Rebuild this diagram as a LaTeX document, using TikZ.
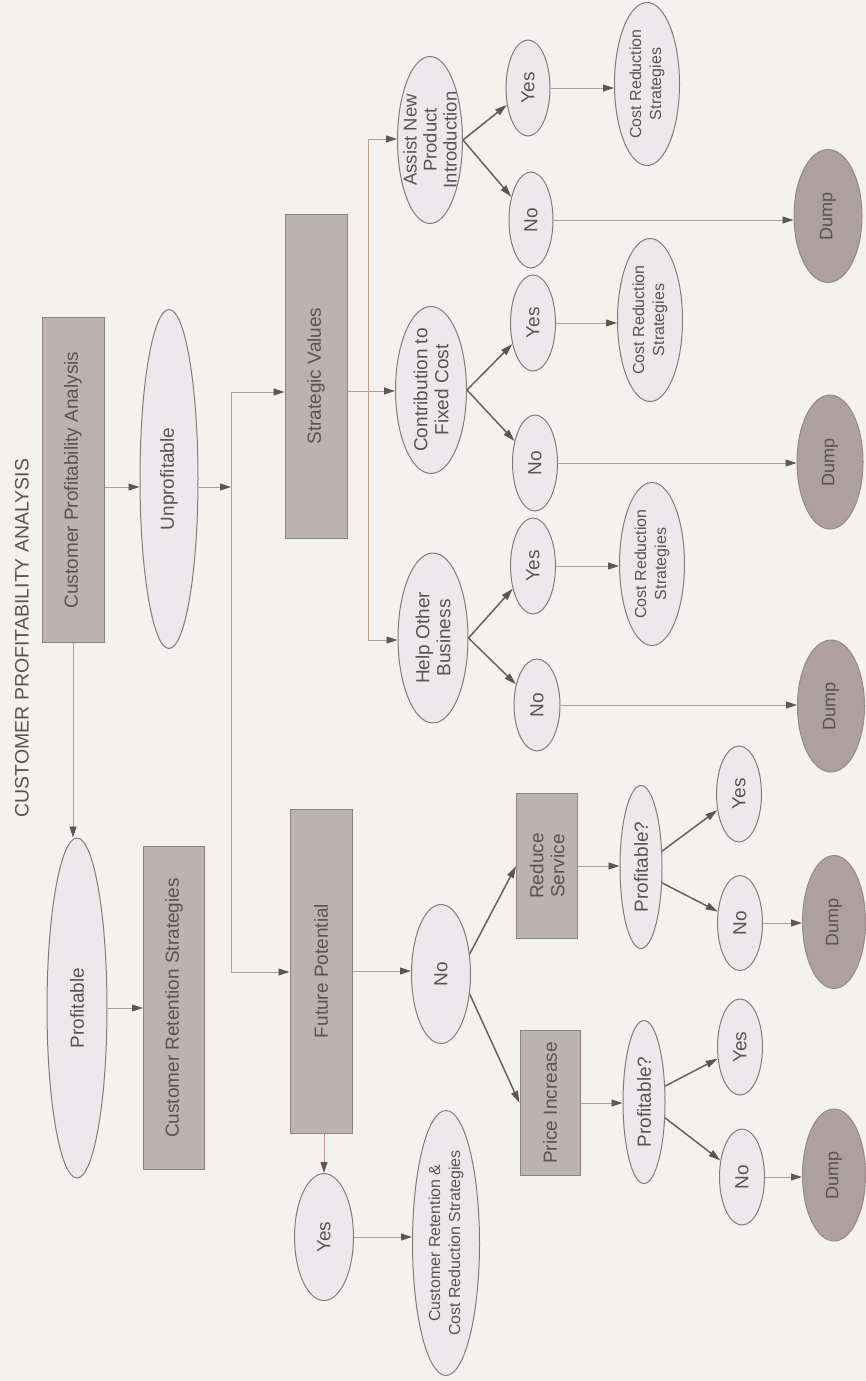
\documentclass[tikz,border=0pt]{standalone}
\usepackage{fontspec}
\setmainfont{Liberation Sans}
\usetikzlibrary{shapes.geometric,arrows.meta}
\definecolor{bg}{HTML}{F4F2EE}
\definecolor{boxfill}{HTML}{BAB2B3}
\definecolor{boxline}{HTML}{8A8282}
\definecolor{ellfill}{HTML}{ECE9EC}
\definecolor{ellline}{HTML}{847A7A}
\definecolor{dumpfill}{HTML}{AEA0A0}
\definecolor{dumpline}{HTML}{978989}
\definecolor{txtc}{HTML}{595353}
\definecolor{lnc}{HTML}{BC9C90}
\definecolor{tipc}{HTML}{5E5555}
\definecolor{darkln}{HTML}{6A6060}
\tikzset{
  boxn/.style 2 args={rectangle, draw=boxline, fill=boxfill, line width=1pt, inner sep=0pt, minimum width=#1, minimum height=#2},
  lell/.style 2 args={ellipse, draw=ellline, fill=ellfill, line width=1pt, inner sep=0pt, minimum width=#1, minimum height=#2},
  dell/.style 2 args={ellipse, draw=dumpline, fill=dumpfill, line width=1pt, inner sep=0pt, minimum width=#1, minimum height=#2},
  txt/.style={rotate=90, text=txtc, inner sep=0pt, align=center, font=\fontsize{19}{21}\selectfont},
  stxt/.style={rotate=90, text=txtc, inner sep=0pt, align=center, font=\fontsize{16}{20}\selectfont},
  ln/.style={draw=lnc, line width=0.9pt},
  arr/.style={draw=lnc, line width=0.9pt, -{Triangle[length=11pt,width=7pt,color=tipc]}},
  darr/.style={draw=darkln, line width=1.5pt, -{Triangle[length=12pt,width=7pt,color=tipc]}}
}
\begin{document}
\begin{tikzpicture}[x=1pt,y=-1pt]
\fill[bg] (0,0) rectangle (866,1381);
\useasboundingbox (0,0) rectangle (866,1381);

% title
\node[rotate=90, text=txtc, inner sep=0pt, font=\fontsize{19.5}{22}\selectfont] (title) at (22,638) {CUSTOMER PROFITABILITY ANALYSIS};

% level 1
\node[boxn={62pt}{325pt}, label={[txt]center:Customer Profitability Analysis}] (cpa) at (73,480) {};
\node[lell={58pt}{339pt}, label={[txt]center:Unprofitable}] (unp) at (169,479) {};
\node[lell={60pt}{340pt}, label={[txt]center:Profitable}] (prof) at (77,1008) {};
\node[boxn={61pt}{323pt}, label={[txt]center:Customer Retention Strategies}] (crs) at (174,1008) {};

% level 2
\node[boxn={62pt}{324pt}, label={[txt]center:Strategic Values}] (sv) at (316,376) {};
\node[boxn={62pt}{324pt}, label={[txt]center:Future Potential}] (fp) at (321,971) {};

% strategic value questions
\node[lell={65pt}{167pt}, label={[txt,font=\fontsize{18.5}{20}\selectfont]center:{Assist New\\Product\\Introduction}}] (anp) at (430,140) {};
\node[lell={71pt}{167pt}, label={[txt]center:{Contribution to\\Fixed Cost}}] (cfc) at (431,390) {};
\node[lell={70pt}{170pt}, label={[txt]center:{Help Other\\Business}}] (hob) at (433,638) {};

\node[lell={44pt}{96pt}, label={[txt]center:Yes}] (y1) at (528,88) {};
\node[lell={44pt}{96pt}, label={[txt]center:No}] (n1) at (531,220) {};
\node[lell={45pt}{96pt}, label={[txt]center:Yes}] (y2) at (533,323) {};
\node[lell={45pt}{96pt}, label={[txt]center:No}] (n2) at (535,463) {};
\node[lell={45pt}{96pt}, label={[txt]center:Yes}] (y3) at (533,566) {};
\node[lell={46pt}{92pt}, label={[txt]center:No}] (n3) at (537,705) {};

\node[lell={65pt}{163pt}, label={[stxt]center:{Cost Reduction\\Strategies}}] (c1) at (647,84) {};
\node[lell={65pt}{163pt}, label={[stxt]center:{Cost Reduction\\Strategies}}] (c2) at (650,320) {};
\node[lell={65pt}{163pt}, label={[stxt]center:{Cost Reduction\\Strategies}}] (c3) at (652,564) {};

\node[dell={68pt}{133pt}, label={[txt,font=\fontsize{18}{20}\selectfont]center:Dump}] (d1) at (828,216) {};
\node[dell={66pt}{134pt}, label={[txt,font=\fontsize{18}{20}\selectfont]center:Dump}] (d2) at (830,462) {};
\node[dell={67pt}{132pt}, label={[txt,font=\fontsize{18}{20}\selectfont]center:Dump}] (d3) at (831,706) {};
\node[dell={63pt}{133pt}, label={[txt,font=\fontsize{18}{20}\selectfont]center:Dump}] (d4) at (834,922) {};
\node[dell={63pt}{132pt}, label={[txt,font=\fontsize{18}{20}\selectfont]center:Dump}] (d5) at (834,1175) {};

% future potential branch
\node[lell={59pt}{139pt}, label={[txt]center:No}] (fno) at (441,974) {};
\node[lell={59pt}{127pt}, label={[txt]center:Yes}] (fyes) at (324,1237) {};
\node[lell={67pt}{265pt}, label={[stxt]center:{Customer Retention \&\\Cost Reduction Strategies}}] (crcr) at (446,1243) {};
\node[boxn={61pt}{145pt}, label={[txt]center:{Reduce\\Service}}] (rs) at (547,866) {};
\node[boxn={60pt}{145pt}, label={[txt]center:Price Increase}] (pi) at (550,1103) {};
\node[lell={42pt}{163pt}, label={[txt]center:Profitable?}] (p1) at (641,867) {};
\node[lell={42pt}{163pt}, label={[txt]center:Profitable?}] (p2) at (644,1102) {};
\node[lell={45pt}{96pt}, label={[txt]center:Yes}] (py1) at (739,794) {};
\node[lell={45pt}{95pt}, label={[txt]center:No}] (pn1) at (740,923) {};
\node[lell={45pt}{96pt}, label={[txt]center:Yes}] (py2) at (740,1047) {};
\node[lell={45pt}{96pt}, label={[txt]center:No}] (pn2) at (742,1177) {};

% bus coordinates
\coordinate (b1) at (231,487);
\coordinate (bt) at (231,392);
\coordinate (bb) at (231,972);
\coordinate (s1) at (368,391);
\coordinate (st) at (368,139);
\coordinate (sb) at (368,640);

% connectors
\draw[arr] (cpa.east |- b1) -- (unp.west |- b1);
\draw[arr] (unp.east |- b1) -- (b1);
\draw[ln] (bt) -- (bb);
\draw[arr] (bt) -- (bt -| sv.west);
\draw[arr] (bb) -- (bb -| fp.west);
\draw[arr] (cpa.south) -- (cpa.south |- prof.north);
\draw[arr] (prof.east) -- (prof.east -| crs.west);

\draw[arr] (sv.east |- s1) -- (s1 -| cfc.west);
\draw[ln] (st) -- (sb);
\draw[arr] (st) -- (st -| anp.west);
\draw[arr] (sb) -- (sb -| hob.west);

\draw[darr] (anp.east) -- (y1);
\draw[darr] (anp.east) -- (n1);
\draw[darr] (cfc.east) -- (y2);
\draw[darr] (cfc.east) -- (n2);
\draw[darr] (hob.east) -- (y3);
\draw[darr] (hob.east) -- (n3);

\draw[arr] (y1.east) -- (y1.east -| c1.west);
\draw[arr] (n1.east) -- (n1.east -| d1.west);
\draw[arr] (y2.east) -- (y2.east -| c2.west);
\draw[arr] (n2.east) -- (n2.east -| d2.west);
\draw[arr] (y3.east) -- (y3.east -| c3.west);
\draw[arr] (n3.east) -- (n3.east -| d3.west);

\draw[arr] (fp.east) -- (fp.east -| fno.west);
\draw[arr] (fyes |- fp.south) -- (fyes.north);
\draw[arr] (fyes.east) -- (fyes.east -| crcr.west);
\draw[darr] (fno.35) -- (rs.west);
\draw[darr] (fno.-35) -- (pi.west);
\draw[arr] (rs.east) -- (rs.east -| p1.west);
\draw[arr] (pi.east) -- (pi.east -| p2.west);
\draw[darr] (p1.37) -- (py1);
\draw[darr] (p1.-37) -- (pn1);
\draw[darr] (p2.37) -- (py2);
\draw[darr] (p2.-37) -- (pn2);
\draw[arr] (pn1.east) -- (pn1.east -| d4.west);
\draw[arr] (pn2.east) -- (pn2.east -| d5.west);
\end{tikzpicture}
\end{document}
